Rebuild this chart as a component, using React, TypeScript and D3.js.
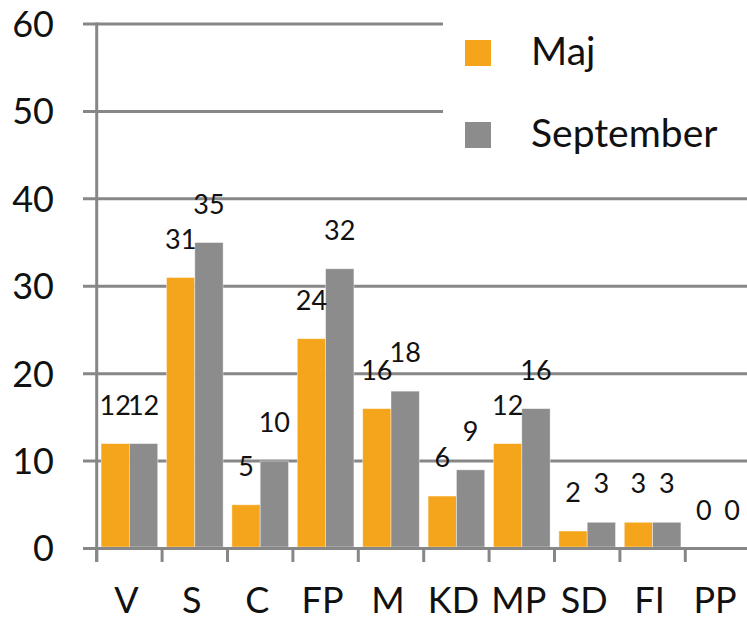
import React from "react";
import * as d3 from "d3";

const categories = ["V", "S", "C", "FP", "M", "KD", "MP", "SD", "FI", "PP"];
const seriesNames = ["Maj", "September"];
const majValues = [12, 31, 5, 24, 16, 6, 12, 2, 3, 0];
const septemberValues = [12, 35, 10, 32, 18, 9, 16, 3, 3, 0];
const yTicks = [0, 10, 20, 30, 40, 50, 60];
const colors = ["#F5A51C", "#8C8C8C"];

const W = 747;
const H = 620;
const FONT = "Lato, 'Open Sans', sans-serif";
const GRID = "#878787";

export default function App() {
  const x0 = 96.7;
  const step = 65.4;
  const x = d3.scaleBand<string>().domain(categories).range([x0, x0 + step * categories.length]).paddingInner(0).paddingOuter(0);
  const xs = d3.scaleBand<string>().domain(seriesNames).range([0, x.bandwidth()]).paddingInner(0).paddingOuter(0.155);
  const y = d3.scaleLinear().domain([0, 60]).range([548.5, 24]);
  const values = [majValues, septemberValues];
  const boundaries = d3.range(categories.length + 1).map((i) => x0 + i * step);

  return (
    <svg width={W} height={H} style={{ position: "absolute", left: 0, top: 0, background: "#fff" }}>
      <rect x={0} y={0} width={W} height={H} fill="#fff" />
      {yTicks.map((t) => (
        <line key={"g" + t} x1={83} x2={W} y1={y(t)} y2={y(t)} stroke={GRID} strokeWidth={3} />
      ))}
      {yTicks.map((t) => (
        <text key={"yl" + t} x={54} y={y(t)} dy="0.36em" textAnchor="end" fontFamily={FONT} fontSize={36} fill="#111">
          {t}
        </text>
      ))}
      {/* legend background */}
      <rect x={443} y={0} width={W - 443} height={180} fill="#fff" />
      {seriesNames.map((s, si) =>
        categories.map((c, ci) => {
          const v = values[si][ci];
          const bx = (x(c) as number) + (xs(s) as number);
          return (
            <rect
              key={s + c}
              x={bx}
              y={y(v)}
              width={xs.bandwidth()}
              height={Math.max(0, y(0) - y(v) - 1.5)}
              fill={colors[si]}
              stroke="#ffffff"
              strokeOpacity={0.5}
              strokeWidth={0.8}
            />
          );
        })
      )}
      <line x1={83} x2={W} y1={y(0)} y2={y(0)} stroke={GRID} strokeWidth={3} />
      <line x1={x0} x2={x0} y1={y(60) - 1.5} y2={562} stroke={GRID} strokeWidth={3} />
      {boundaries.map((b, i) => (
        <line key={"xt" + i} x1={b} x2={b} y1={y(0)} y2={562} stroke={GRID} strokeWidth={3} />
      ))}
      {seriesNames.map((s, si) =>
        categories.map((c, ci) => {
          const v = values[si][ci];
          const cx = (x(c) as number) + (xs(s) as number) + xs.bandwidth() / 2;
          return (
            <text key={"dl" + s + c} x={cx} y={y(v) - 29} textAnchor="middle" fontFamily={FONT} fontSize={27} fill="#111">
              {v}
            </text>
          );
        })
      )}
      {categories.map((c) => (
        <text
          key={"xl" + c}
          x={(x(c) as number) + x.bandwidth() / 2 - 3}
          y={613}
          textAnchor="middle"
          fontFamily={FONT}
          fontSize={36}
          fill="#111"
        >
          {c}
        </text>
      ))}
      {seriesNames.map((s, si) => (
        <g key={"lg" + s}>
          <rect x={465} y={40 + si * 82} width={26} height={26} fill={colors[si]} />
          <text x={531} y={65 + si * 82} fontFamily={FONT} fontSize={39} fill="#111">
            {s}
          </text>
        </g>
      ))}
    </svg>
  );
}
